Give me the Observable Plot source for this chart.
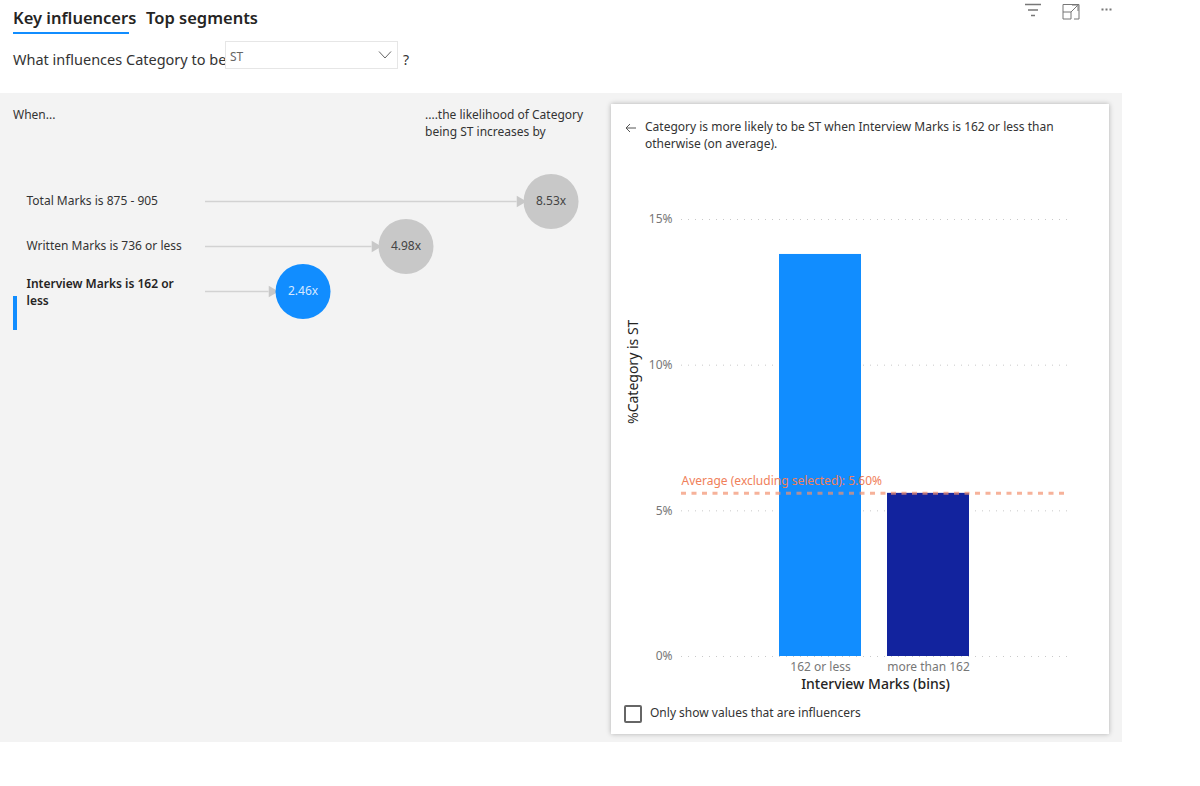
<!DOCTYPE html>
<html><head><meta charset="utf-8">
<script src="https://cdn.jsdelivr.net/npm/d3@7"></script>
<script src="https://cdn.jsdelivr.net/npm/@observablehq/plot@0.6"></script>
<style>
html,body{margin:0;padding:0;background:#fff;overflow:hidden}
body{width:1200px;height:786px;position:relative;font-family:"Noto Sans","Open Sans",sans-serif;color:#333}
.a{position:absolute;white-space:nowrap}
svg{overflow:visible}
</style></head><body>
<div class="a" style="left:13px;top:6px;font-size:16.5px;font-weight:600;color:#252423">Key influencers</div>
<div class="a" style="left:146px;top:6px;font-size:16.5px;font-weight:600;color:#252423">Top segments</div>
<div class="a" style="left:13px;top:32px;width:116px;height:2px;background:#118dff"></div>
<div class="a" style="left:13px;top:49px;font-size:14.5px;color:#333">What influences Category to be</div>
<div class="a" style="left:225px;top:41px;width:171px;height:26px;border:1px solid #e6e6e6"></div>
<div class="a" style="left:230px;top:48px;font-size:12px;color:#666">ST</div>
<svg class="a" style="left:378px;top:50px" width="15" height="10"><path d="M1 1.5 L7 8 L13 1.5" fill="none" stroke="#666"/></svg>
<div class="a" style="left:403px;top:50px;font-size:14px">?</div>

<svg class="a" style="left:1024px;top:2px" width="100" height="20" fill="none" stroke="#777">
<path d="M1 2.5H17M4 8H14M7 13.5H11" stroke-width="1.3"/>
<path d="M39 5V17H47V10H39M39 5V2.5H55V17H50M48 3H54V9M53.5 3.5L47 10" stroke-width="1"/>
<path d="M77.5 7.5h2M81.5 7.5h2M85.5 7.5h2" stroke-width="2" stroke-dasharray="2 0"/>
</svg>

<div class="a" style="left:0;top:93px;width:1122px;height:649px;background:#f3f3f3"></div>
<div class="a" style="left:13px;top:106px;font-size:12px">When...</div>
<div class="a" style="left:425px;top:106px;font-size:12px;line-height:17px">....the likelihood of Category<br>being ST increases by</div>
<div class="a" style="left:13px;top:296px;width:4px;height:34px;background:#118dff"></div>
<div id="left" class="a" style="left:0;top:93px"></div>

<div class="a" style="left:611px;top:104px;width:498px;height:630px;background:#fff;box-shadow:0 0 5px rgba(0,0,0,.28)"></div>
<svg class="a" style="left:624px;top:122px" width="14" height="12"><path d="M12 6H2M6 2L2 6L6 10" fill="none" stroke="#555"/></svg>
<div class="a" style="left:645px;top:118px;font-size:12px;line-height:17px">Category is more likely to be ST when Interview Marks is 162 or less than<br>otherwise (on average).</div>
<div id="right" class="a" style="left:611px;top:104px"></div>
<div class="a" style="left:624px;top:705px;width:14px;height:14px;border:2px solid #666;border-radius:2px"></div>
<div class="a" style="left:650px;top:704px;font-size:12px">Only show values that are influencers</div>

<script>
const influencers = ["Total Marks is 875 - 905", "Written Marks is 736 or less", "Interview Marks is 162 or less"];
const multipliers = [8.53, 4.98, 2.46];
const selected = [false, false, true];
const bins = ["162 or less", "more than 162"];
const percents = [13.8, 5.6];
const binColors = ["#118dff", "#12239e"];
const yTicks = [0, 5, 10, 15];
const averagePct = 5.6;
const averageLabel = "Average (excluding selected): 5.60%";

const rows = influencers.map((label, i) => ({label, value: multipliers[i], selected: selected[i]}));
const font = '"Noto Sans","Open Sans",sans-serif';

const left = Plot.plot({
  width: 611, height: 649, margin: 0, marginLeft: 202,
  style: {background: "none", fontFamily: font},
  x: {axis: null, domain: [0, 10], range: [202, 610.6]},
  y: {axis: null, type: "point", domain: influencers, range: [85, 220]},
  marks: [
    Plot.ruleY(rows, {x1: 0, x2: "value", y: "label", insetLeft: 3, insetRight: 34, stroke: "#d2d2d2", strokeWidth: 1.5}),
    Plot.dot(rows, {x: "value", y: "label", dx: -31, symbol: "triangle", rotate: 90, r: 4.2, fill: "#c8c8c8", stroke: "none"}),
    Plot.dot(rows, {x: "value", y: "label", r: 27.5, fill: d => d.selected ? "#118dff" : "#c8c8c8", stroke: "none"}),
    Plot.text(rows, {x: "value", y: "label", text: d => d.value.toFixed(2) + "x", fontSize: 12, fill: d => d.selected ? "#d5e8ff" : "#444"}),
    Plot.text(rows.filter(d => !d.selected), {y: "label", text: "label", frameAnchor: "left", textAnchor: "start", dx: -176, fontSize: 12, fill: "#333"}),
    Plot.text(rows.filter(d => d.selected), {y: "label", text: "label", frameAnchor: "left", textAnchor: "start", dx: -176, fontSize: 12, fontWeight: 600, fill: "#252423", lineWidth: 13.5, lineHeight: 1.42})
  ]
});
document.getElementById("left").append(left);

const barData = bins.map((bin, i) => ({bin, pct: percents[i], color: binColors[i]}));
const right = Plot.plot({
  width: 498, height: 630, marginLeft: 70, marginRight: 40, marginTop: 115, marginBottom: 78,
  style: {background: "none", fontFamily: font},
  x: {domain: bins, range: [142, 384], padding: 0.24, label: null},
  y: {domain: [0, 15], range: [552, 115], label: null},
  marks: [
    Plot.ruleY(yTicks, {stroke: "#c9c9c9", strokeDasharray: "1 6"}),
    Plot.barY(barData, {x: "bin", y: "pct", fill: "color"}),
    Plot.axisY({ticks: yTicks, tickSize: 0, tickPadding: 9, tickFormat: d => d + "%", fontSize: 12, color: "#777", label: null}),
    Plot.axisX({tickSize: 0, tickPadding: 6, fontSize: 12, color: "#777", label: null}),
    Plot.ruleY([averagePct], {stroke: "#f2916f", strokeOpacity: 0.7, strokeWidth: 3, strokeDasharray: "5 5.5"}),
    Plot.text([averageLabel], {y: averagePct, frameAnchor: "left", textAnchor: "start", dy: -12.5, fontSize: 12, fill: "#f0805a"}),
    Plot.text(["Interview Marks (bins)"], {frameAnchor: "bottom", dy: 32, fontSize: 14, fontWeight: 500, fill: "#252423"}),
    Plot.text(["%Category is ST"], {frameAnchor: "left", dx: -48, dy: -14, rotate: -90, fontSize: 14, fill: "#252423"})
  ]
});
document.getElementById("right").append(right);
</script>
</body></html>
